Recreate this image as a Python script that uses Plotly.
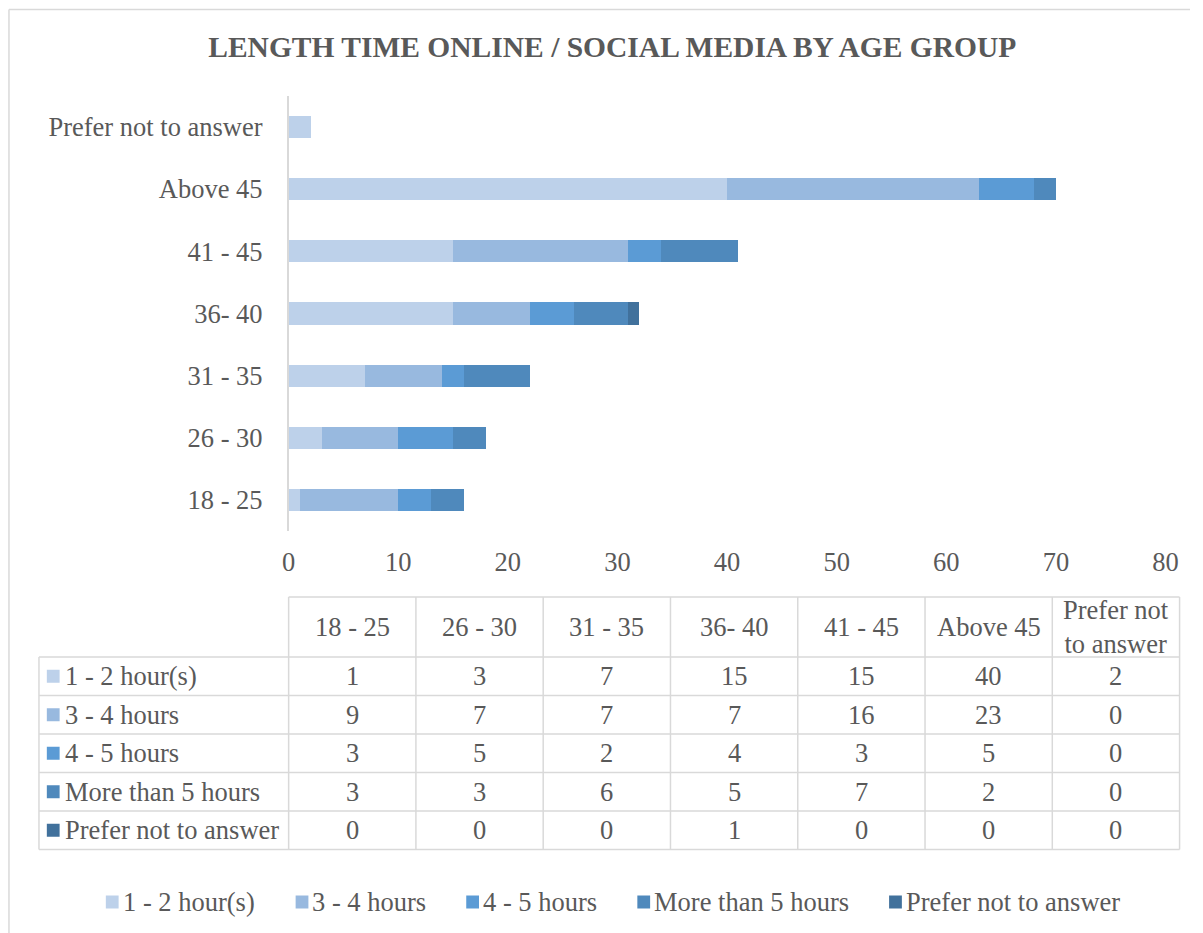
import plotly.graph_objects as go

# ---- data ----
age_groups = ["18 - 25", "26 - 30", "31 - 35", "36- 40", "41 - 45", "Above 45", "Prefer not to answer"]
table_headers = ["18 - 25", "26 - 30", "31 - 35", "36- 40", "41 - 45", "Above 45", "Prefer not<br>to answer"]
series_names = ["1 - 2 hour(s)", "3 - 4 hours", "4 - 5 hours", "More than 5 hours", "Prefer not to answer"]
hours_1_2 = [1, 3, 7, 15, 15, 40, 2]
hours_3_4 = [9, 7, 7, 7, 16, 23, 0]
hours_4_5 = [3, 5, 2, 4, 3, 5, 0]
more_than_5 = [3, 3, 6, 5, 7, 2, 0]
no_answer = [0, 0, 0, 1, 0, 0, 0]
x_ticks = [0, 10, 20, 30, 40, 50, 60, 70, 80]

series_values = [hours_1_2, hours_3_4, hours_4_5, more_than_5, no_answer]
colors = ["#BDD1EA", "#98B9DF", "#5B9BD5", "#4F89BC", "#41719C"]

W, H = 1203, 933
FONT = "Liberation Serif, Times New Roman, serif"
FS = 26.5
TXT = "#595959"
GRID = "#D9D9D9"


def px(x):
    return x / W


def py(y):
    return 1 - y / H


fig = go.Figure()
for name, vals, col in zip(series_names, series_values, colors):
    fig.add_trace(go.Bar(
        y=age_groups, x=vals, name=name, orientation="h",
        marker=dict(color=col, line=dict(width=0)),
        showlegend=False,
    ))

shapes = []
annotations = []

# outer chart frame (left and top edges)
frame = dict(color=GRID, width=1.5)
shapes.append(dict(type="line", xref="paper", yref="paper",
                   x0=px(2), x1=px(2), y0=0, y1=py(9.5), line=frame))
shapes.append(dict(type="line", xref="paper", yref="paper",
                   x0=px(2), x1=1, y0=py(9.5), y1=py(9.5), line=frame))

# ---- data table ----
plot_left = 286.4
plot_right = 1178.1
label_left = 32.5
col_right = 1192.4
n_cols = len(age_groups)
col_w = (col_right - plot_left) / n_cols
row_edges = [657, 695.5, 734, 772.5, 811, 849.5]
header_top = 597
line_style = dict(color=GRID, width=1.5)

# horizontal lines
shapes.append(dict(type="line", xref="paper", yref="paper",
                   x0=px(plot_left), x1=px(col_right), y0=py(header_top), y1=py(header_top), line=line_style))
for ry in row_edges:
    shapes.append(dict(type="line", xref="paper", yref="paper",
                       x0=px(label_left), x1=px(col_right), y0=py(ry), y1=py(ry), line=line_style))
# vertical lines
shapes.append(dict(type="line", xref="paper", yref="paper",
                   x0=px(label_left), x1=px(label_left), y0=py(row_edges[0]), y1=py(row_edges[-1]), line=line_style))
for c in range(n_cols + 1):
    cx = plot_left + c * col_w
    shapes.append(dict(type="line", xref="paper", yref="paper",
                       x0=px(cx), x1=px(cx), y0=py(header_top), y1=py(row_edges[-1]), line=line_style))

# header labels
for c, lab in enumerate(table_headers):
    cx = plot_left + (c + 0.5) * col_w
    annotations.append(dict(text=lab, xref="paper", yref="paper",
                            x=px(cx), y=py((header_top + row_edges[0]) / 2),
                            xanchor="center", yanchor="middle", showarrow=False,
                            font=dict(family=FONT, size=FS, color=TXT)))

# series rows
for r, (name, vals, col) in enumerate(zip(series_names, series_values, colors)):
    cy = (row_edges[r] + row_edges[r + 1]) / 2
    shapes.append(dict(type="rect", xref="paper", yref="paper",
                       x0=px(40.5), x1=px(53.5), y0=py(cy + 6.5), y1=py(cy - 6.5),
                       fillcolor=col, line=dict(width=0)))
    annotations.append(dict(text=name, xref="paper", yref="paper",
                            x=px(56.5), y=py(cy), xanchor="left", yanchor="middle", showarrow=False,
                            font=dict(family=FONT, size=FS, color=TXT)))
    for c, v in enumerate(vals):
        cx = plot_left + (c + 0.5) * col_w
        annotations.append(dict(text=str(v), xref="paper", yref="paper",
                                x=px(cx), y=py(cy), xanchor="center", yanchor="middle", showarrow=False,
                                font=dict(family=FONT, size=FS, color=TXT)))

# ---- bottom legend ----
legend_x = [100.5, 293.5, 467, 641, 897]
legend_y = 902
for lx, name, col in zip(legend_x, series_names, colors):
    shapes.append(dict(type="rect", xref="paper", yref="paper",
                       x0=px(lx), x1=px(lx + 13), y0=py(legend_y + 6.5), y1=py(legend_y - 6.5),
                       fillcolor=col, line=dict(width=0)))
    annotations.append(dict(text=name, xref="paper", yref="paper",
                            x=px(lx + 15), y=py(legend_y), xanchor="left", yanchor="middle", showarrow=False,
                            font=dict(family=FONT, size=FS, color=TXT)))

fig.update_layout(
    width=W, height=H,
    margin=dict(l=0, r=0, t=0, b=0),
    paper_bgcolor="white", plot_bgcolor="white",
    barmode="stack", bargap=0.645,
    title=dict(text="<b>LENGTH TIME ONLINE / SOCIAL MEDIA BY AGE GROUP</b>",
               x=0.509, xanchor="center", y=py(47), yanchor="middle",
               font=dict(family=FONT, size=29.5, color=TXT)),
    font=dict(family=FONT, size=FS, color=TXT),
    xaxis=dict(domain=[px(plot_left), px(plot_right)], range=[0, 80], tickvals=x_ticks,
               showgrid=False, zeroline=False, showline=False, ticks="",
               ticklabelstandoff=12,
               tickfont=dict(family=FONT, size=FS, color=TXT), fixedrange=True),
    yaxis=dict(domain=[py(531), py(96)], categoryorder="array", categoryarray=age_groups,
               showgrid=False, zeroline=False, showline=True, linecolor=GRID, linewidth=1.5,
               ticks="", ticklabelstandoff=19,
               tickfont=dict(family=FONT, size=FS, color=TXT), fixedrange=True),
    shapes=shapes,
    annotations=annotations,
    hovermode=False,
)

fig.write_html("out.html")
